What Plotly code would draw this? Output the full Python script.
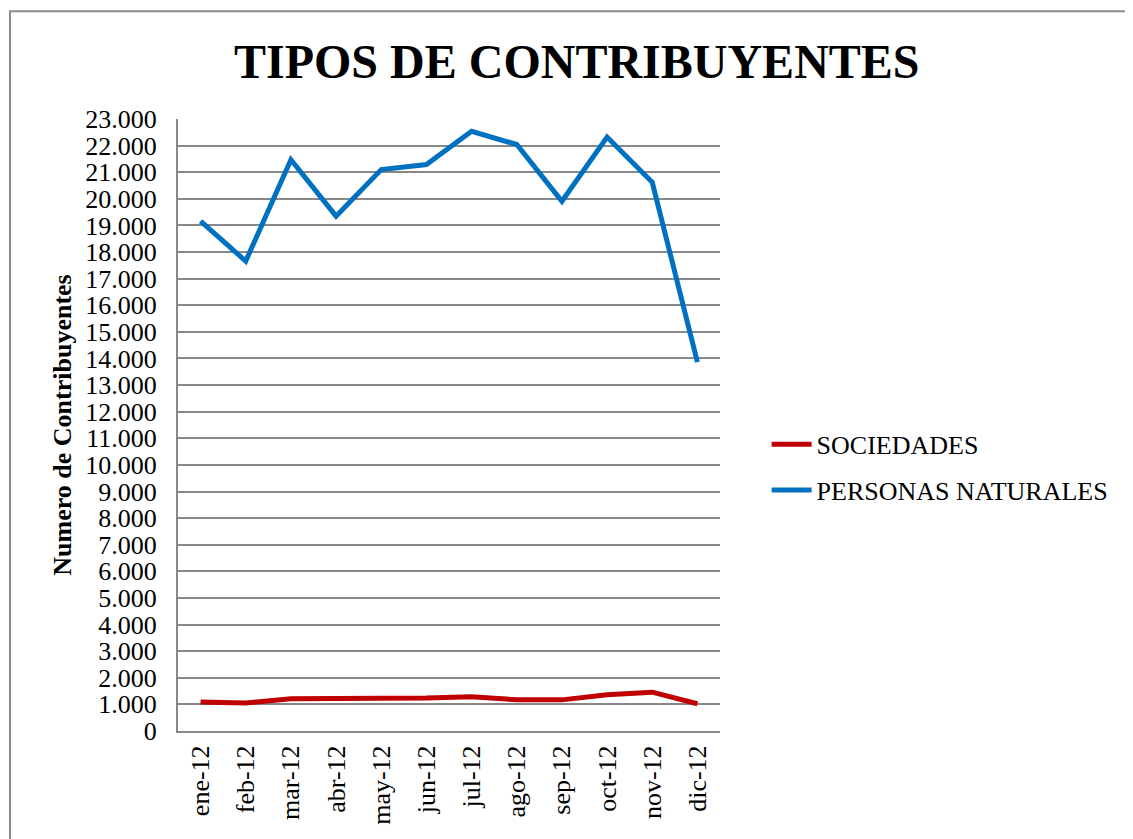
import plotly.graph_objects as go

months = ["ene-12", "feb-12", "mar-12", "abr-12", "may-12", "jun-12",
          "jul-12", "ago-12", "sep-12", "oct-12", "nov-12", "dic-12"]
sociedades = [1090, 1050, 1210, 1210, 1250, 1240, 1290, 1175, 1170, 1360, 1460, 1025]
personas_naturales = [19160, 17660, 21470, 19350, 21100, 21290, 22540, 22040, 19910, 22320, 20620, 13860]

FONT = "Liberation Serif, Times New Roman, serif"
GRID = "#888888"

fig = go.Figure()
fig.add_trace(go.Scatter(x=months, y=sociedades, mode="lines", name="SOCIEDADES",
                         legendgroup="a", line=dict(color="#C00000", width=5)))
fig.add_trace(go.Scatter(x=months, y=personas_naturales, mode="lines", name="PERSONAS NATURALES",
                         legendgroup="b", line=dict(color="#0070C0", width=5)))

fig.update_layout(
    width=1133, height=839,
    paper_bgcolor="white", plot_bgcolor="white",
    separators=",.",
    font=dict(family=FONT, size=26, color="black"),
    margin=dict(l=170, r=421, t=111, b=116),
    title=dict(text="<b>TIPOS DE CONTRIBUYENTES</b>", x=0.502, xanchor="center",
               y=0.937, yanchor="middle", font=dict(family=FONT, size=48, color="black")),
    showlegend=True,
    legend=dict(x=1.086, y=0.431, xanchor="left", yanchor="middle",
                font=dict(family=FONT, size=26, color="black"),
                tracegroupgap=9, itemwidth=40),
    xaxis=dict(showgrid=False, showline=True, linecolor=GRID, linewidth=2,
               range=[-0.5, 11.5], tickangle=-90, ticks="", ticklabelstandoff=2,
               tickfont=dict(family=FONT, size=26)),
    yaxis=dict(range=[0, 23000], dtick=1000, tick0=0, tickformat=",d",
               showgrid=True, gridcolor=GRID, gridwidth=1.5,
               showline=True, linecolor=GRID, linewidth=2, ticks="",
               ticklabelstandoff=14, zeroline=False,
               tickfont=dict(family=FONT, size=26),
               title=dict(text="<b>Numero de Contribuyentes</b>", standoff=6,
                          font=dict(family=FONT, size=26))),
    shapes=[dict(type="rect", xref="paper", yref="paper", x0=-0.31, x1=1.9,
                 y0=-0.5, y1=1.176, line=dict(color="#8c8c8c", width=2))],
)

fig.write_html("out.html")
